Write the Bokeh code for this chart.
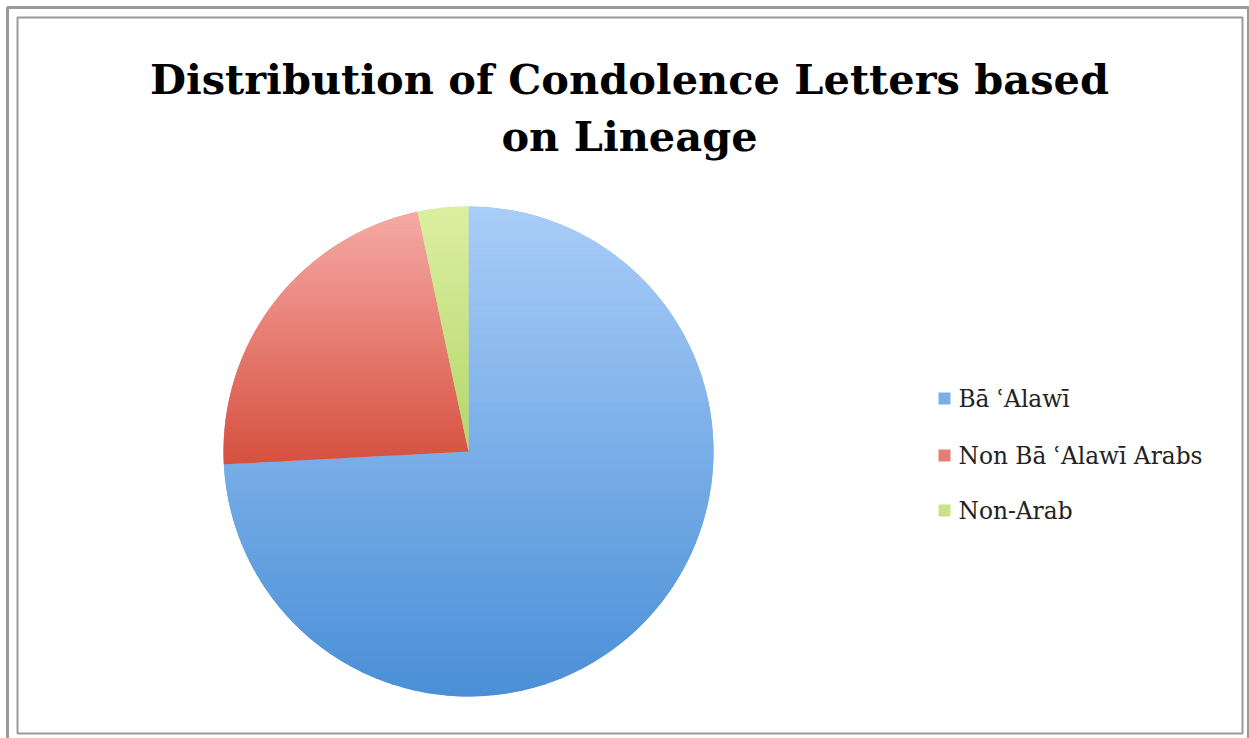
import math
from bokeh.plotting import figure
from bokeh.models import Range1d
from bokeh.core.properties import value
from bokeh.embed import file_html
from bokeh.resources import INLINE

# ---- data ----
categories = ["Bā ʿAlawī", "Non Bā ʿAlawī Arabs", "Non-Arab"]
counts = [89, 27, 4]
title_lines = ["Distribution of Condolence Letters based", "on Lineage"]

# ---- styles ----
top_colors = ["#a9cdf8", "#f6aaa6", "#dcefa2"]
bot_colors = ["#4a8fd7", "#d6503f", "#b3d76a"]
W, H = 1249, 738
CX, CY, R = 468, H - 451, 245

p = figure(width=W, height=H, output_backend="svg", toolbar_location=None,
           x_range=Range1d(0, W), y_range=Range1d(0, H), min_border=0,
           background_fill_color="white", border_fill_color="white")
p.axis.visible = False
p.grid.visible = False
p.outline_line_color = None

def hex2rgb(h):
    h = h.lstrip("#")
    return tuple(int(h[i:i + 2], 16) for i in (0, 2, 4))

def mix(c1, c2, t):
    a, b = hex2rgb(c1), hex2rgb(c2)
    return "#%02x%02x%02x" % tuple(int(round(a[i] + (b[i] - a[i]) * t)) for i in range(3))

def clip_half(poly, yv, keep_above):
    out = []
    n = len(poly)
    for i in range(n):
        cur, prev = poly[i], poly[i - 1]
        cin = cur[1] >= yv if keep_above else cur[1] <= yv
        pin = prev[1] >= yv if keep_above else prev[1] <= yv
        if cin:
            if not pin:
                t = (yv - prev[1]) / (cur[1] - prev[1])
                out.append((prev[0] + t * (cur[0] - prev[0]), yv))
            out.append(cur)
        elif pin:
            t = (yv - prev[1]) / (cur[1] - prev[1])
            out.append((prev[0] + t * (cur[0] - prev[0]), yv))
    return out

total = sum(counts)
cum = 0
starts, ends = [], []
for c in counts:
    starts.append(math.pi / 2 - 2 * math.pi * cum / total)
    cum += c
    ends.append(math.pi / 2 - 2 * math.pi * cum / total)

# base wedges
p.wedge(x=[CX] * 3, y=[CY] * 3, radius=R, start_angle=starts, end_angle=ends,
        direction="clock", fill_color=[mix(t, b, 0.5) for t, b in zip(top_colors, bot_colors)],
        line_color=None)

# gradient overlay
xs, ys, cols = [], [], []
NB = 80
for k in range(len(counts)):
    a0, a1 = starts[k], ends[k]
    npts = max(4, int(abs(a1 - a0) * 60))
    poly = [(CX, CY)] + [(CX + R * math.cos(a0 + (a1 - a0) * i / npts),
                          CY + R * math.sin(a0 + (a1 - a0) * i / npts)) for i in range(npts + 1)]
    ymax = max(q[1] for q in poly)
    ymin = min(q[1] for q in poly)
    for b in range(NB):
        yh = ymax - (ymax - ymin) * b / NB
        yl = ymax - (ymax - ymin) * (b + 1) / NB
        pp = clip_half(poly, yl - 0.3, True)
        if len(pp) < 3:
            continue
        pp = clip_half(pp, yh + 0.3, False)
        if len(pp) < 3:
            continue
        xs.append([q[0] for q in pp])
        ys.append([q[1] for q in pp])
        cols.append(mix(top_colors[k], bot_colors[k], (b + 0.5) / NB))
p.patches(xs, ys, fill_color=cols, line_color=None)

# frames
p.quad(left=7, right=1248, top=H - 7, bottom=-10, fill_color=None, line_color="#9a9a9a", line_width=3)
p.quad(left=17, right=1242, top=H - 17, bottom=H - 733, fill_color=None, line_color="#9a9a9a", line_width=2)

# title
p.text(x=[629, 629], y=[H - 79, H - 136], text=title_lines, text_align="center",
       text_baseline="alphabetic", text_font=value("DejaVu Serif"), text_font_style="bold",
       text_font_size="41.5px", text_color="black")

# legend
ly = [H - 398, H - 455, H - 510]
p.quad(left=[938] * 3, right=[950] * 3, top=[y + 6 for y in ly], bottom=[y - 6 for y in ly],
       fill_color=[mix(t, b, 0.5) for t, b in zip(top_colors, bot_colors)], line_color=None)
p.text(x=[958] * 3, y=ly, text=categories, text_align="left", text_baseline="middle",
       text_font=value("DejaVu Serif"), text_font_size="23.3px", text_color="#222222")

open("out.html", "w").write(file_html(p, INLINE))
